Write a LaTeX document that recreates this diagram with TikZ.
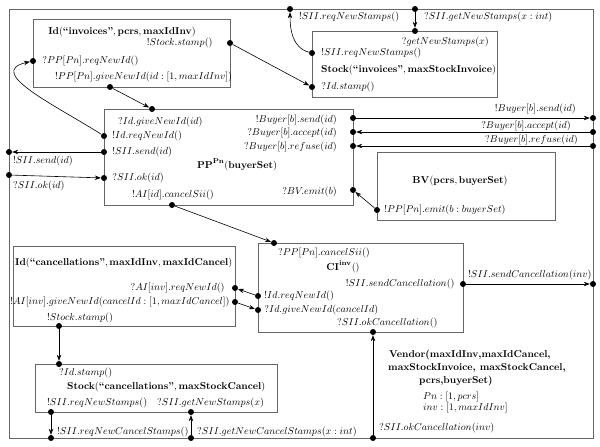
\documentclass[tikz,border=0pt]{standalone}
\usepackage{amsmath,amssymb}
\usepackage{xcolor}
\usepackage{tikz}
\usetikzlibrary{positioning}
\usetikzlibrary{arrows.meta}

\tikzset{
  box/.style={draw=black!60, line width=0.8pt, rectangle, inner sep=0pt, anchor=north west},
  pin/.style={circle, fill=black, inner sep=0pt, minimum size=6pt},
  msg/.style={inner sep=0pt},
  link/.style={draw=black, line width=0.6pt, -{Stealth[length=6pt,width=4.5pt]}},
}

\begin{document}
\begin{tikzpicture}[x=1pt,y=-1pt]
		\useasboundingbox (0,0) rectangle (600,447);
		% outer component
		\node[box, minimum width=584pt, minimum height=429pt] (vendor) at (9,9) {};
		
		% Id invoices
		\node[box, minimum width=197pt, minimum height=68pt] (idInv) at (33,19) {};
		\node[msg] (idInvT) at (122,32) {$\mathbf{Id}(\textbf{``invoices''}, \mathbf{pcrs}, \mathbf{maxIdInv})$};
		\node[pin] (idInvStampPin) at (230,43) {};
		\node[msg, left=14pt of idInvStampPin] (idInvStamp) {$!Stock.stamp()$};
		\node[pin] (idInvReqPin) at (33,61) {};
		\node[msg, right=6pt of idInvReqPin] (idInvReq) {$?PP[Pn].reqNewId()$};
		\node[msg, anchor=west] (idInvGive) at (55,77) {$!PP[Pn].giveNewId(id:[1,maxIdInv])$};
		\node[pin] (idInvGivePin) at (110,87) {};
		
		% Stock invoices
		\node[box, minimum width=185pt, minimum height=66pt] (stInv) at (312,31) {};
		\node[pin] (stInvTopPin) at (415,31) {};
		\node[msg, anchor=east] (stInvGet) at (489,42) {$?getNewStamps(x)$};
		\node[pin] (stInvReqPin) at (312,53) {};
		\node[msg, right=6pt of stInvReqPin] (stInvReq) {$!SII.reqNewStamps()$};
		\node[msg, anchor=west] (stInvT) at (321,70) {$\mathbf{Stock}(\textbf{``invoices''}, \mathbf{maxStockInvoice})$};
		\node[pin] (stInvStampPin) at (312,87) {};
		\node[msg, right=6pt of stInvStampPin] (stInvStamp) {$?Id.stamp()$};
		
		\node[pin] (topReqPin) at (290,9) {};
		\node[msg, anchor=west] (topReq) at (299,17) {$!SII.reqNewStamps()$};
		\node[pin] (topGetPin) at (415,9) {};
		\node[msg, anchor=west] (topGet) at (424,17) {$?SII.getNewStamps(x:int)$};
		
		% PP
		\node[box, minimum width=249pt, minimum height=96pt] (pp) at (104,109) {};
		\node[pin] (ppGivePin) at (152,109) {};
		\node[msg, anchor=west] (ppGive) at (118,122) {$?Id.giveNewId(id)$};
		\node[pin] (ppReqPin) at (104,136) {};
		\node[msg, right=5pt of ppReqPin] (ppReq) {$!Id.reqNewId()$};
		\node[pin] (ppSendPin) at (104,152) {};
		\node[msg, right=5pt of ppSendPin] (ppSend) {$!SII.send(id)$};
		\node[pin] (ppOkPin) at (104,178) {};
		\node[msg, right=5pt of ppOkPin] (ppOk) {$?SII.ok(id)$};
		\node[msg, anchor=west] (ppCancel) at (132,195) {$!AI[id].cancelSii()$};
		\node[pin] (ppCancelPin) at (172,205) {};
		\node[msg] (ppT) at (237,165) {$\mathbf{PP}^{\mathbf{Pn}}(\mathbf{buyerSet})$};
		\node[pin] (ppBSendPin) at (353,118) {};
		\node[msg, anchor=east] (ppBSend) at (337,120) {$!Buyer[b].send(id)$};
		\node[pin] (ppBAccPin) at (353,132) {};
		\node[msg, anchor=east] (ppBAcc) at (337,133) {$?Buyer[b].accept(id)$};
		\node[pin] (ppBRefPin) at (353,146) {};
		\node[msg, anchor=east] (ppBRef) at (337,147) {$?Buyer[b].refuse(id)$};
		\node[pin] (ppEmitPin) at (353,190) {};
		\node[msg, anchor=east] (ppEmit) at (337,192) {$?BV.emit(b)$};
		
		\node[pin] (rBSendPin) at (593,118) {};
		\node[msg, anchor=east] (rBSend) at (576,109) {$!Buyer[b].send(id)$};
		\node[pin] (rBAccPin) at (593,132) {};
		\node[msg, anchor=east] (rBAcc) at (571,126) {$?Buyer[b].accept(id)$};
		\node[pin] (rBRefPin) at (593,146) {};
		\node[msg, anchor=east] (rBRef) at (578,140) {$?Buyer[b].refuse(id)$};
		
		\node[pin] (lSendPin) at (9,152) {};
		\node[msg, anchor=west] (lSend) at (13,161) {$!SII.send(id)$};
		\node[pin] (lOkPin) at (9,175) {};
		\node[msg, anchor=west] (lOk) at (13,186) {$?SII.ok(id)$};
		
		% BV
		\node[box, minimum width=178pt, minimum height=68pt] (bv) at (377,152) {};
		\node[msg] (bvT) at (460,181) {$\mathbf{BV}(\mathbf{pcrs}, \mathbf{buyerSet})$};
		\node[pin] (bvEmitPin) at (377,210) {};
		\node[msg, right=4pt of bvEmitPin] (bvEmit) {$!PP[Pn].emit(b:buyerSet)$};
		
		% CI
		\node[box, minimum width=205pt, minimum height=89pt] (ci) at (258,243) {};
		\node[pin] (ciCancelPin) at (274,243) {};
		\node[msg, anchor=west] (ciCancel) at (278,253) {$?PP[Pn].cancelSii()$};
		\node[msg] (ciT) at (343,267) {$\mathbf{CI}^{\mathbf{inv}}()$};
		\node[pin] (ciSendPin) at (463,284) {};
		\node[msg, left=5pt of ciSendPin] (ciSend) {$!SII.sendCancellation()$};
		\node[pin] (ciReqPin) at (258,296) {};
		\node[msg, right=3pt of ciReqPin] (ciReq) {$!Id.reqNewId()$};
		\node[pin] (ciGivePin) at (258,310) {};
		\node[msg, right=3pt of ciGivePin] (ciGive) {$?Id.giveNewId(cancelId)$};
		\node[msg, anchor=west] (ciOk) at (337,323) {$?SII.okCancellation()$};
		\node[pin] (ciOkPin) at (373,332) {};
		
		\node[pin] (rCancelPin) at (593,284) {};
		\node[msg, anchor=west] (rCancel) at (468,275) {$!SII.sendCancellation(inv)$};
		
		% Id cancellations
		\node[box, minimum width=222pt, minimum height=80pt] (idCan) at (13,246) {};
		\node[msg, anchor=west] (idCanT) at (15,263) {$\mathbf{Id}(\textbf{``cancellations''}, \mathbf{maxIdInv}, \mathbf{maxIdCancel})$};
		\node[pin] (idCanReqPin) at (235,288) {};
		\node[msg, left=7pt of idCanReqPin] (idCanReq) {$?AI[inv].reqNewId()$};
		\node[pin] (idCanGivePin) at (235,302) {};
		\node[msg, left=2pt of idCanGivePin] (idCanGive) {$!AI[inv].giveNewId(cancelId:[1,maxIdCancel])$};
		\node[msg, anchor=west] (idCanStamp) at (47,318) {$!Stock.stamp()$};
		\node[pin] (idCanStampPin) at (59,326) {};
		
		% Stock cancellations
		\node[box, minimum width=242pt, minimum height=48pt] (stCan) at (35,364) {};
		\node[pin] (stCanTopPin) at (59,364) {};
		\node[msg, anchor=west] (stCanStamp) at (59,373) {$?Id.stamp()$};
		\node[msg, anchor=west] (stCanT) at (67,387) {$\mathbf{Stock}(\textbf{``cancellations''}, \mathbf{maxStockCancel})$};
		\node[msg, anchor=west] (stCanReq) at (47,403) {$!SII.reqNewStamps()$};
		\node[msg, anchor=west] (stCanGet) at (157,403) {$?SII.getNewStamps(x)$};
		\node[pin] (stCanReqPin) at (51,412) {};
		\node[pin] (stCanGetPin) at (191,412) {};
		
		\node[pin] (bReqPin) at (51,438) {};
		\node[msg, anchor=west] (bReq) at (57,432) {$!SII.reqNewCancelStamps()$};
		\node[pin] (bGetPin) at (191,438) {};
		\node[msg, anchor=west] (bGet) at (197,432) {$?SII.getNewCancelStamps(x:int)$};
		\node[pin] (bOkPin) at (373,438) {};
		\node[msg, anchor=west] (bOk) at (379,428) {$?SII.okCancellation(inv)$};
		
		% Vendor text
		\node[msg, anchor=west] (vendorT1) at (389,355) {\textbf{Vendor(maxIdInv,maxIdCancel,}};
		\node[msg, anchor=west] (vendorT2) at (388,368) {\textbf{maxStockInvoice, maxStockCancel,}};
		\node[msg, anchor=west] (vendorT3) at (419,381) {\textbf{pcrs,buyerSet)}};
		\node[msg, anchor=west] (vendorPn) at (423,397) {$Pn:[1,pcrs]$};
		\node[msg, anchor=west] (vendorInv) at (423,408) {$inv:[1,maxIdInv]$};
		
		% connectors
		\draw[link] (idInvGivePin) -- (ppGivePin);
		\draw[link] (idInvStampPin) -- (stInvStampPin);
		\draw[link] (ppReqPin) .. controls (55,105) and (-15,72) .. (idInvReqPin);
		\draw[link] (stInvReqPin) to[out=165,in=270] (topReqPin);
		\draw[link] (topGetPin) -- (stInvTopPin);
		\draw[link] (ppBSendPin) -- (rBSendPin);
		\draw[link] (rBAccPin) -- (ppBAccPin);
		\draw[link] (rBRefPin) -- (ppBRefPin);
		\draw[link] (bvEmitPin) -- (ppEmitPin);
		\draw[link] (ppSendPin) -- (lSendPin);
		\draw[link] (lOkPin) -- (ppOkPin);
		\draw[link] (ppCancelPin) -- (ciCancelPin);
		\draw[link] (ciSendPin) -- (rCancelPin);
		\draw[link] (ciReqPin) -- (idCanReqPin);
		\draw[link] (idCanGivePin) -- (ciGivePin);
		\draw[link] (idCanStampPin) -- (stCanTopPin);
		\draw[link] (stCanReqPin) -- (bReqPin);
		\draw[link] (bGetPin) -- (stCanGetPin);
		\draw[link] (bOkPin) -- (ciOkPin);
	\end{tikzpicture}
\end{document}
